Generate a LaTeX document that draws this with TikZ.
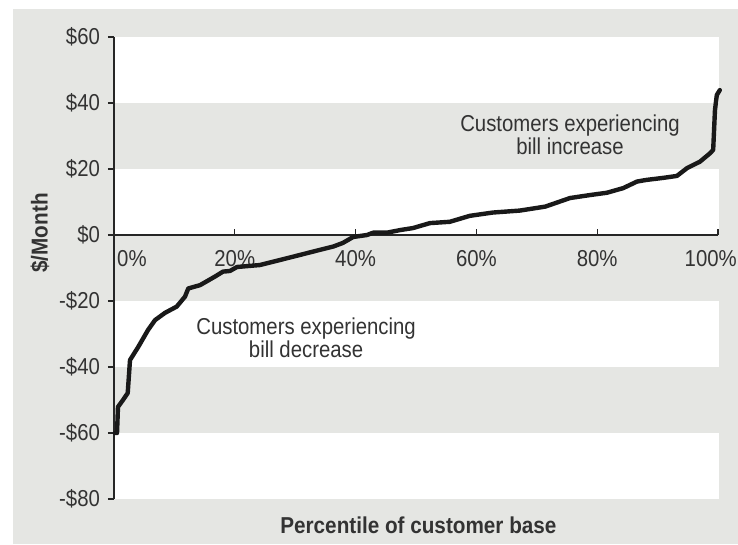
\documentclass[tikz,border=0pt]{standalone}
\usepackage{fontspec}
\setmainfont{Liberation Sans}[FakeStretch=0.885]
\newfontfamily\headfont{Liberation Sans}[FakeStretch=0.9]
\definecolor{panel}{HTML}{E5E6E3}
\definecolor{ink}{HTML}{333333}

\begin{document}
\begin{tikzpicture}[x=6.04pt,y=3.3pt]

      % One x unit is one percent of the customer base, one y unit is one dollar
      \tikzstyle{band}=[fill=white,draw=none]
      \tikzstyle{axis}=[draw=black!85,line width=1.6pt]
      \tikzstyle{lbl}=[text=ink,inner sep=0pt,font=\fontsize{23}{23}\selectfont]
      \tikzstyle{ttl}=[text=black!80,inner sep=0pt,font=\headfont\bfseries\fontsize{23}{24}\selectfont]
      \tikzstyle{curve}=[draw=black!90,line width=4.4pt,line join=round,line cap=round]

      % Define dimensions
      \def\xr{100.17}   % Right edge of the white bands
      \def\tl{1}        % Length of the ticks on the dollar axis
      \def\th{1.8}      % Height of the ticks on the percent axis
      \def\ly{-7.2}     % Height of the percent labels

      \useasboundingbox (-18.874,71.21) rectangle (103.311,-93.64);

      % Gray panel and the white bands
      \fill [panel] (-16.72,68.48) rectangle (103.311,-93.64);
      \fill [band] (0,60) rectangle (\xr,40);
      \fill [band] (0,20) rectangle (\xr,0);
      \fill [band] (0,-20) rectangle (\xr,-40);
      \fill [band] (0,-60) rectangle (\xr,-80);

      % Dollar axis with its ticks
      \draw [axis] (0,60) -- (0,-80);
      \draw [axis] (-\tl,60) -- (0,60);
      \draw [axis] (-\tl,40) -- (0,40);
      \draw [axis] (-\tl,20) -- (0,20);
      \draw [axis] (-\tl,0) -- (0,0);
      \draw [axis] (-\tl,-20) -- (0,-20);
      \draw [axis] (-\tl,-40) -- (0,-40);
      \draw [axis] (-\tl,-60) -- (0,-60);
      \draw [axis] (-\tl,-80) -- (0,-80);

      \node [lbl,anchor=east] (d60) at (-2.3,60) {\$60};
      \node [lbl,anchor=east] (d40) at (-2.3,40) {\$40};
      \node [lbl,anchor=east] (d20) at (-2.3,20) {\$20};
      \node [lbl,anchor=east] (d0) at (-2.3,0) {\$0};
      \node [lbl,anchor=east] (dm20) at (-2.3,-20) {-\$20};
      \node [lbl,anchor=east] (dm40) at (-2.3,-40) {-\$40};
      \node [lbl,anchor=east] (dm60) at (-2.3,-60) {-\$60};
      \node [lbl,anchor=east] (dm80) at (-2.3,-80) {-\$80};

      % Percent axis with its ticks
      \draw [axis,line width=1.3pt] (0,0) -- (100,0);
      \draw [axis,line width=1.3pt] (20,0) -- (20,\th);
      \draw [axis,line width=1.3pt] (40,0) -- (40,\th);
      \draw [axis,line width=1.3pt] (60,0) -- (60,\th);
      \draw [axis,line width=1.3pt] (80,0) -- (80,\th);
      \draw [axis,line width=1.3pt] (100,0) -- (100,\th);

      \node [lbl,anchor=west] (p0) at (0.5,\ly) {0\%};
      \node [lbl] (p20) at (20,\ly) {20\%};
      \node [lbl] (p40) at (40,\ly) {40\%};
      \node [lbl] (p60) at (60,\ly) {60\%};
      \node [lbl] (p80) at (80,\ly) {80\%};
      \node [lbl] (p100) at (98.8,\ly) {100\%};

      % Bill change, sorted from the largest decrease to the largest increase
      \draw [curve] plot coordinates {
        (0.17,-60) (0.5,-60) (0.66,-52.1) (1.49,-50) (2.27,-47.9) (2.65,-37.9)
        (4.02,-33.9) (5.63,-28.8) (6.79,-25.8) (8.44,-23.6) (10.38,-21.7)
        (11.75,-18.7) (12.3,-16.2) (14.24,-15.2) (16.72,-12.6) (18.05,-11.1)
        (19.2,-10.9) (20.36,-9.7) (24.17,-9.1) (29.6,-6.6) (34.1,-4.5)
        (36.3,-3.5) (37.9,-2.4) (39.6,-0.6) (41.9,0) (42.9,0.7) (45.2,0.7)
        (47.4,1.5) (49.5,2.1) (52.3,3.6) (55.6,4.0) (58.9,5.8) (62.7,6.8)
        (67.2,7.4) (71.4,8.6) (75.5,11.2) (78.8,12.1) (81.6,12.8) (84.3,14.2)
        (86.6,16.2) (88.2,16.7) (90.9,17.3) (93.2,17.9) (94.9,20.3) (97.0,22.2)
        (98.7,24.8) (99.2,25.8) (99.5,37.9) (99.8,42.4) (100.3,43.9)};

      % Notes on the two halves of the curve
      \node [lbl,align=center] (inc) at (75.5,30.45) {Customers experiencing\\bill increase};
      \node [lbl,align=center] (dec) at (31.8,-31.2) {Customers experiencing\\bill decrease};

      % Axis titles
      \node [ttl] (xt) at (50.4,-87.9) {Percentile of customer base};
      \node [ttl,rotate=90] (yt) at (-12.25,0.6) {\$/Month};

\end{tikzpicture}
\end{document}
